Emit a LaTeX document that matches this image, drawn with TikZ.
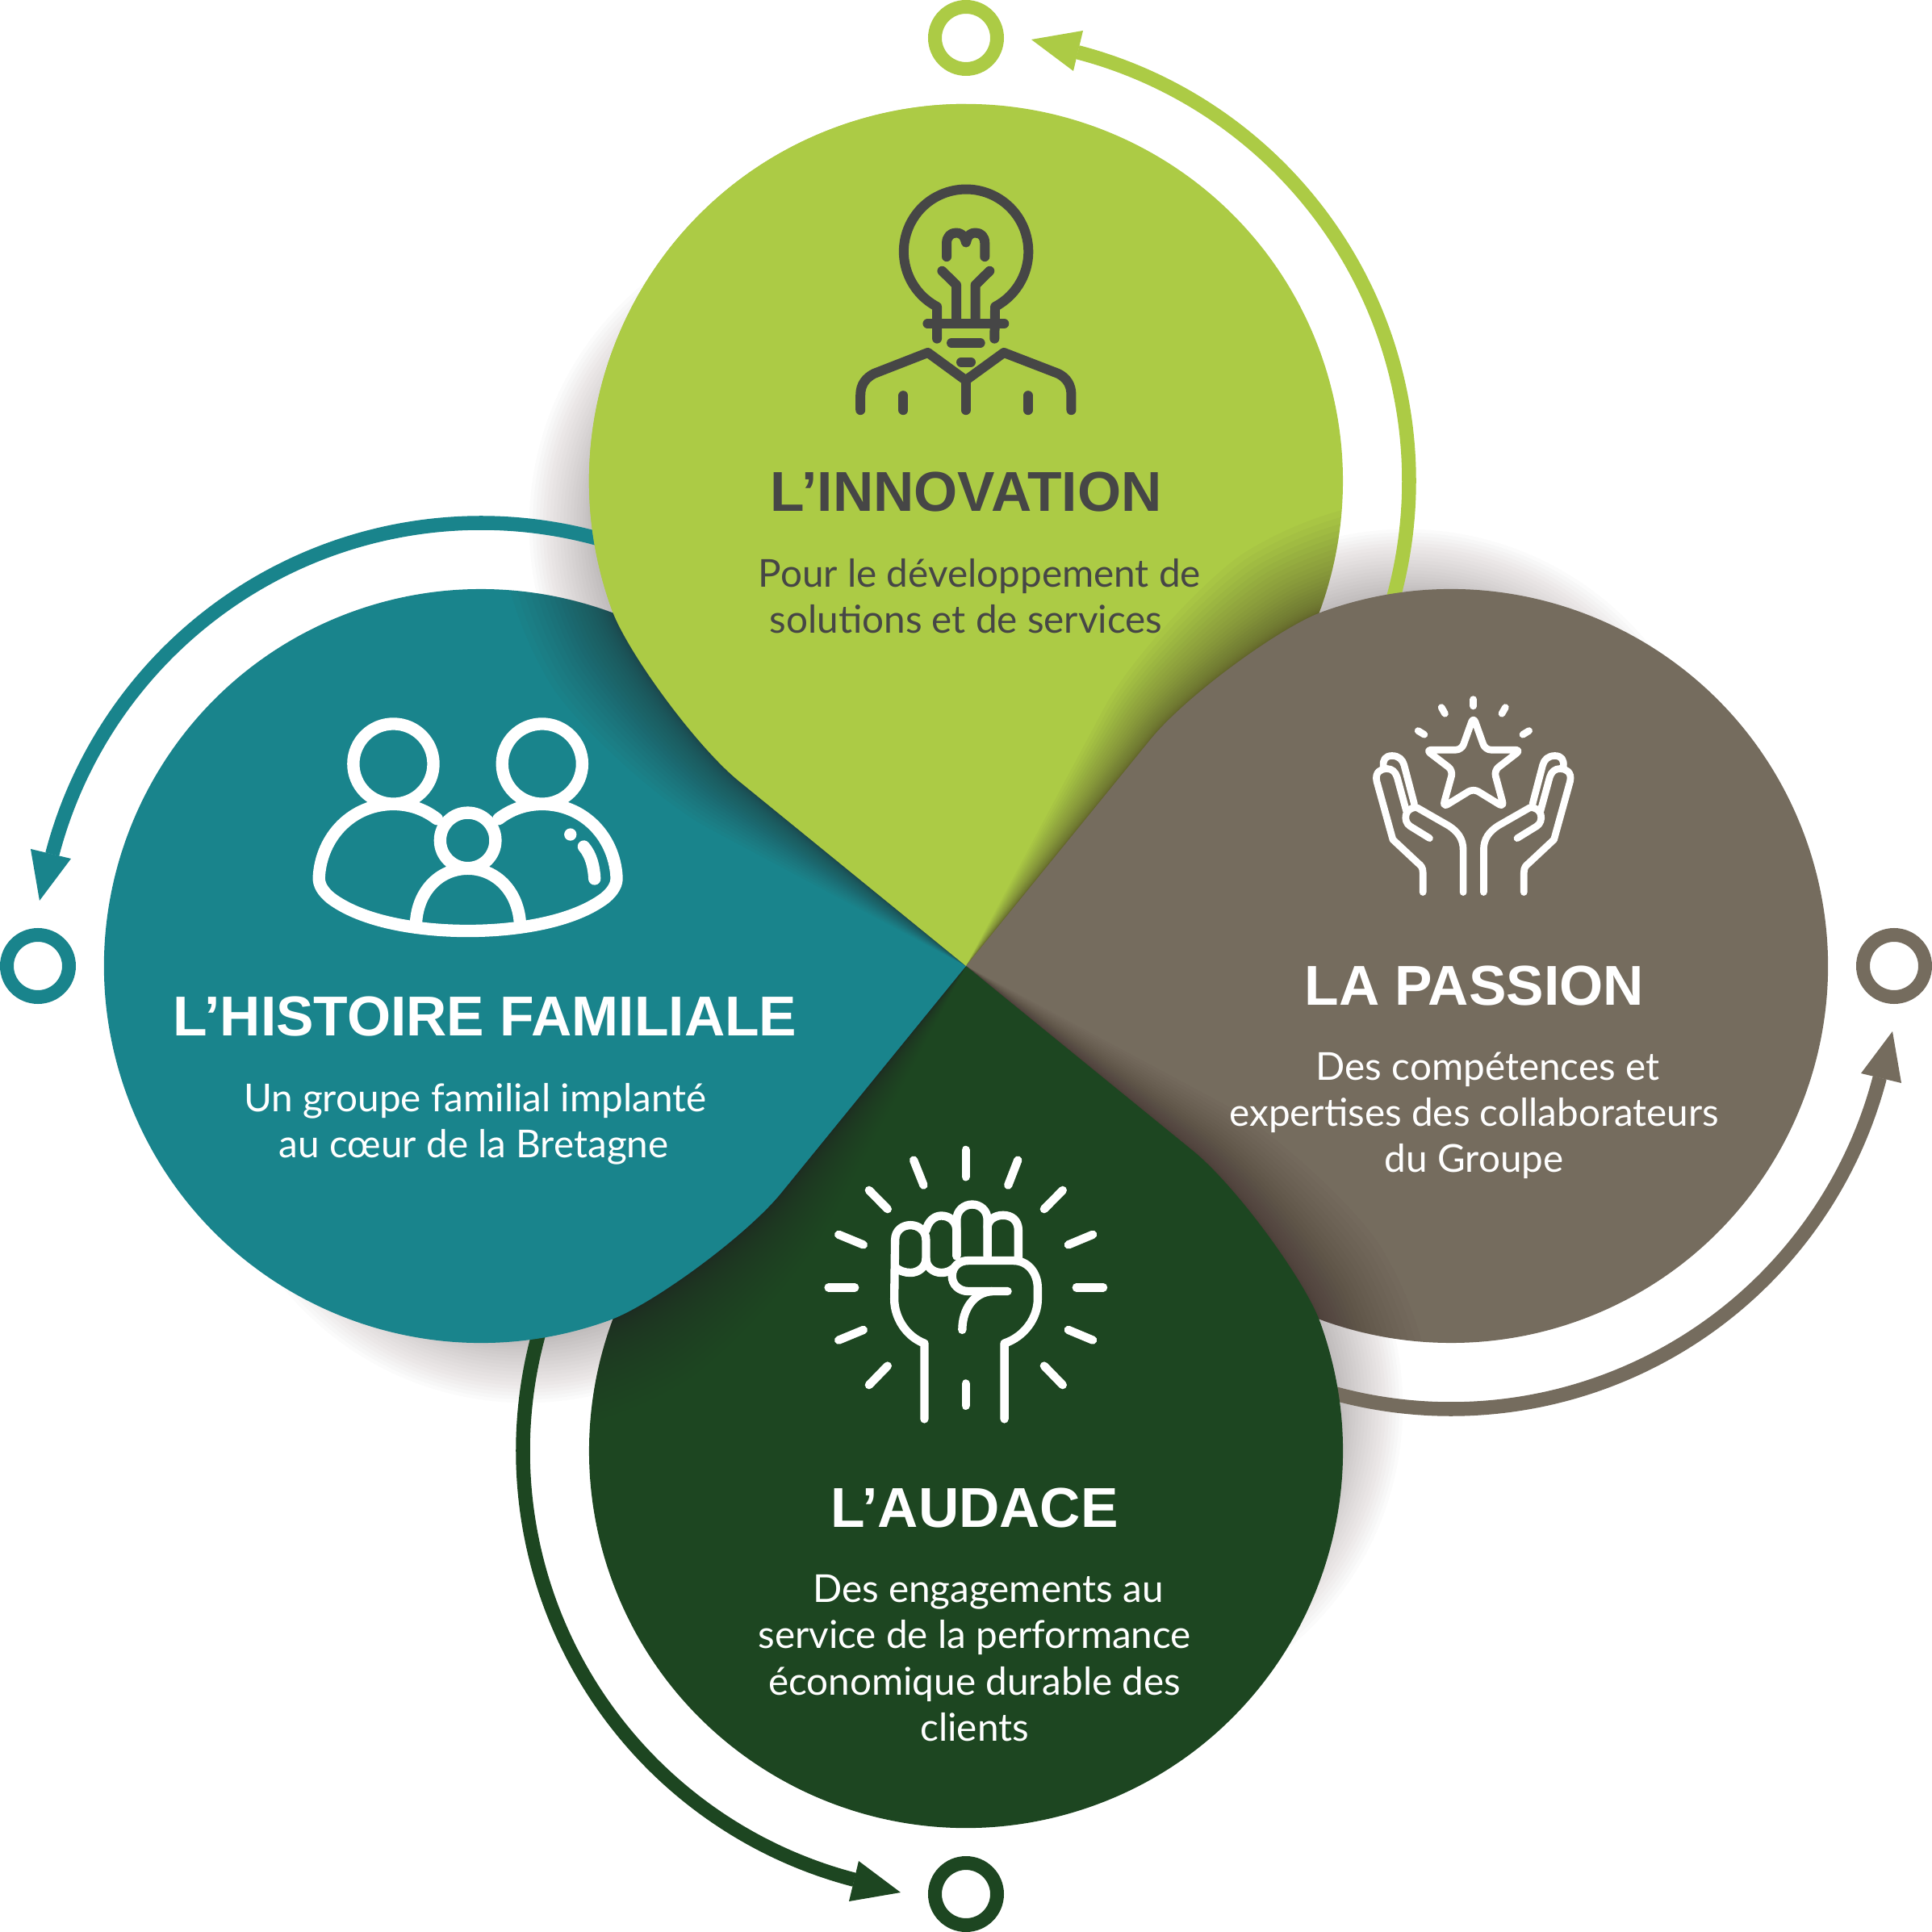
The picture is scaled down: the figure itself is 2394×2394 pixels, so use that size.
\documentclass[tikz,border=0pt]{standalone}
\usepackage{fontspec}
\setmainfont{Lato}
\newfontfamily\headfont{Liberation Sans}
\definecolor{cgreen}{HTML}{ACCB45}
\definecolor{cteal}{HTML}{19848C}
\definecolor{cdark}{HTML}{1D4621}
\definecolor{cbrown}{HTML}{756C5E}
\definecolor{cink}{HTML}{464646}
\definecolor{cshade}{HTML}{3A2A2A}
\def\drop{(0,0) -- (-280,228) .. controls (-334.6,272) and (-420,389.6) .. (-438.8,441.3) arc[start angle=200,end angle=-40,radius=467] -- cycle}
% a crescent-shaped soft shadow: the thin layers are short, the wide ones long
\newcommand\softshade[1]{\foreach \i in {1,...,20}{
  \pgfmathsetmacro\ee{84*\i/20}
  \pgfmathsetmacro\aa{16+36*\i/20}
  \pgfmathsetmacro\ss{(\ee*cos(\aa)-\ee*\ee/934)/((1-cos(\aa))+2*\ee/934)}
  \pgfmathsetmacro\dd{\ee+\ss}
  \fill[cshade,opacity=.014,rotate=#1] ({-\dd*cos(20)},{601-\dd*sin(20)}) circle[radius=467-\ss];}}
\newcommand\edgeshade[2]{\begin{scope}\clip[rotate=#1] \drop;
  \foreach \i in {1,...,28}{\fill[cshade,opacity=.03,rotate={#2+11*(\i/28)^2}] \drop;}\end{scope}}
\tikzset{
  zoomat/.style 2 args={shift={(#1-1197,1197-#2)},x=0.0033333cm,y=-0.0033333cm},
  glyph/.style={line cap=round,line join=round,line width=#1},
  headw/.style={font=\headfont\fontsize{19.8}{22}\selectfont\bfseries,anchor=base,inner sep=0pt,text=white},
  bodyw/.style={font=\fontsize{13.55}{15}\selectfont,anchor=base,inner sep=0pt,text=white},
  headk/.style={headw,text=cink},
  bodyk/.style={bodyw,text=cink},
  disp/.style={x=0.0152679cm,y=-0.0152679cm,shift={(-784,-784)}}
}
\begin{document}
\begin{tikzpicture}[x=0.01cm,y=0.01cm]
\useasboundingbox (-1197,-1197) rectangle (1197,1197);
\fill[white] (-1197,-1197) rectangle (1197,1197);
% soft shadows on the white ground
\softshade{0}\softshade{-90}\softshade{180}\softshade{90}
% arcs, arrows, rings
\foreach \r/\c in {0/cgreen,-90/cbrown,180/cdark,90/cteal}{
  \begin{scope}[rotate=\r]
    \draw[\c,line width=17.5*0.2845pt] (0,601) ++(-25:549) arc[start angle=-25,end angle=75.4,radius=549];
    \fill[\c] (81,1148) -- (145,1159) -- (133,1109) -- cycle;
    \draw[\c,line width=17*0.2845pt] (0,1150) circle[radius=38.5];
  \end{scope}
}
% the four drops, each lying over the next one round
\fill[cgreen] \drop;
\edgeshade{0}{-90}
\fill[cbrown,rotate=-90] \drop;
\edgeshade{-90}{180}
\fill[cdark,rotate=180] \drop;
\edgeshade{180}{90}
\fill[cteal,rotate=90] \drop;
\edgeshade{90}{0}
\begin{scope}
  \clip (-1197,-1197) rectangle (0,1197);
  \fill[cgreen] \drop;
\end{scope}
% bulb icon
\begin{scope}[zoomat={1000}{200},cink,glyph=3.41pt]
  \draw (484,660) -- (484,541) arc[start angle=117.8,end angle=422.2,radius=232] -- (698,660);
  \draw (449,604) -- (734,604);
  \draw (520,355) -- (520,305) .. controls (520,280) and (535,266) .. (555,266) .. controls (570,266) and (585,272) .. (592,302) .. controls (598,272) and (612,266) .. (627,266) .. controls (648,266) and (662,280) .. (662,305) -- (662,355);
  \draw (503,408) -- (556,460) -- (556,604);
  \draw (680,408) -- (627,460) -- (627,604);
  \draw (538,676) -- (645,676);
  \draw (574,747) -- (610,747);
  \draw (199,926) -- (199,870) .. controls (199,830) and (220,805) .. (250,790) -- (450,712) -- (591,815) -- (733,712) -- (935,790) .. controls (965,805) and (984,830) .. (984,870) -- (984,926);
  \draw (591,815) -- (591,926);
  \draw (359,872) -- (359,926);
  \draw (823,872) -- (823,926);
\end{scope}
% family icon
\begin{scope}[zoomat={360}{860},white,glyph=4.36pt]
  \draw (383,260) circle[radius=149];
  \draw (937,260) circle[radius=149];
  \draw (660,545) circle[radius=103];
  \draw (545,465) .. controls (500,430) and (445,410) .. (383,410) .. controls (230,410) and (115,530) .. (106,680) .. controls (104,710) and (120,735) .. (150,760) .. controls (270,850) and (480,882) .. (660,882) .. controls (840,882) and (1050,850) .. (1170,760) .. controls (1200,735) and (1216,710) .. (1214,680) .. controls (1205,530) and (1090,410) .. (937,410) .. controls (875,410) and (820,430) .. (775,465);
  \draw (467,860) .. controls (470,735) and (555,650) .. (660,650) .. controls (765,650) and (850,735) .. (855,860);
  \fill (1042,523) circle[radius=23];
  \draw (1092,568) .. controls (1120,600) and (1130,645) .. (1132,688);
\end{scope}
% hands and star icon
\begin{scope}[zoomat={1670}{840},white,glyph=2.47pt]
  \draw (468,80) -- (468,105);
  \draw (349,110) -- (362,133);
  \draw (587,110) -- (574,133);
  \draw (262,197) -- (285,211);
  \draw (675,197) -- (652,211);
  \draw[rounded corners=2pt] (468,145) -- (512,268) -- (645,268) -- (545,345) -- (582,482) -- (468,412) -- (354,482) -- (392,345) -- (291,268) -- (424,268) -- cycle;
  \foreach \m/\f in {0/1,936/-1}{
    \begin{scope}[shift={(\m,0)},xscale=\f]
      \draw (280,798) -- (280,725) .. controls (280,705) and (272,698) .. (262,690) -- (168,602) -- (108,385) .. controls (100,350) and (125,338) .. (145,338) .. controls (165,338) and (178,350) .. (184,370) -- (218,495);
      \draw (133,330) .. controls (130,305) and (140,290) .. (165,290) .. controls (190,290) and (205,305) .. (210,325) -- (248,470);
      \draw (305,597) -- (232,552) .. controls (205,535) and (210,480) .. (258,483) -- (375,550) .. controls (410,572) and (430,600) .. (430,640) -- (430,798);
    \end{scope}
  }
\end{scope}
% fist icon
\begin{scope}[zoomat={1000}{1400},white,glyph=2.94pt]
  \foreach \a/\b/\e/\f in {591/75/591/175,397/113/434/206,785/113/749/206,231/225/300/295,952/225/883/295,118/390/210/428,1064/390/973/428,80/587/178/587,1003/587/1103/587,118/783/210/745,1064/783/973/745,231/950/300/879,952/950/883/879,591/945/591/1027}{
    \draw (\a,\b) -- (\e,\f);
  }
  \draw (437,1077) -- (437,795) .. controls (370,770) and (325,700) .. (325,630) -- (328,410) .. controls (328,375) and (355,355) .. (385,355) .. controls (415,355) and (443,375) .. (443,410) -- (443,480) .. controls (443,510) and (415,532) .. (385,532) .. controls (365,532) and (340,525) .. (328,510);
  \draw (443,375) .. controls (450,340) and (475,320) .. (500,320) .. controls (530,320) and (557,340) .. (557,375) -- (557,470);
  \draw (443,480) .. controls (443,510) and (470,532) .. (500,532) .. controls (515,532) and (530,528) .. (542,518);
  \draw (557,470) -- (557,335) .. controls (557,300) and (585,278) .. (615,278) .. controls (645,278) and (672,300) .. (672,335) -- (672,470);
  \draw (672,365) .. controls (672,335) and (700,318) .. (730,318) .. controls (760,318) and (787,335) .. (787,375) -- (787,485);
  \draw (747,601) -- (600,601) .. controls (565,601) and (540,575) .. (540,545) .. controls (540,510) and (565,487) .. (600,487) -- (770,487) .. controls (820,487) and (859,530) .. (859,590) -- (859,630) .. controls (859,700) and (810,770) .. (735,795) -- (735,1077);
  \draw (578,745) .. controls (578,670) and (620,605) .. (690,601);
\end{scope}
% texts
\begin{scope}[disp]
  \node[headk] (t1) at (784,415.5) {L’INNOVATION};
  \node[bodyk] (b1a) at (795,477) {Pour le développement de};
  \node[bodyk] (b1b) at (784,514) {solutions et de services};
  \node[headw] (t2) at (394,840.5) {L’HISTOIRE FAMILIALE};
  \node[bodyw] (b2a) at (386,902) {Un groupe familial implanté};
  \node[bodyw] (b2b) at (385,939.5) {au cœur de la Bretagne};
  \node[headw] (t3) at (1196,816) {LA PASSION};
  \node[bodyw] (b3a) at (1207,876.5) {Des compétences et};
  \node[bodyw] (b3b) at (1196,914) {expertises des collaborateurs};
  \node[bodyw] (b3c) at (1196,951.5) {du Groupe};
  \node[headw] (t4) at (791,1239) {L’AUDACE};
  \node[bodyw] (b4a) at (802,1300) {Des engagements au};
  \node[bodyw] (b4b) at (791,1337) {service de la performance};
  \node[bodyw] (b4c) at (791,1375) {économique durable des};
  \node[bodyw] (b4d) at (791,1412.5) {clients};
\end{scope}
\end{tikzpicture}
\end{document}
